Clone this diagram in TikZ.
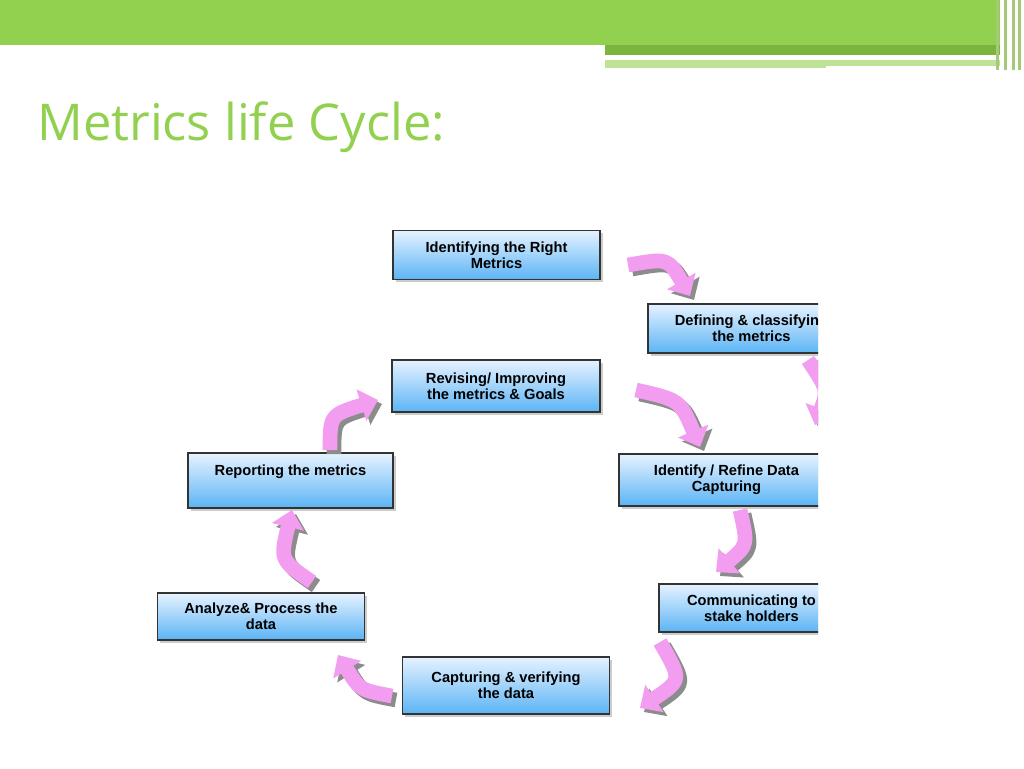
\documentclass[tikz,border=0pt]{standalone}
\usepackage{fontspec}
\setmainfont{Liberation Sans}
\newfontfamily\titlefont{Open Sans}
\usetikzlibrary{arrows.meta,shadows}
\definecolor{leaf}{HTML}{92D050}
\definecolor{leafdark}{HTML}{7DB43E}
\definecolor{pinkarrow}{HTML}{F29DF0}
\definecolor{boxtop}{HTML}{E6F2FF}
\definecolor{boxbot}{HTML}{5BB4F5}
\begin{document}
\begin{tikzpicture}[x=0.75pt,y=-0.75pt,
  phase/.style={draw=black!80,line width=1.2pt,top color=boxtop,bottom color=boxbot,
    drop shadow={shadow xshift=2pt,shadow yshift=-2pt,fill=black!40},
    font=\bfseries\fontsize{11}{12}\selectfont,align=center,inner sep=0pt},
  turn/.style={pinkarrow,line width=11pt,-{Triangle[width=24pt,length=13pt]}},
  turnshade/.style={black!45,line width=11pt,-{Triangle[width=24pt,length=13pt]}}]
\useasboundingbox (0,0) rectangle (1024,768);
% header band
\fill[leaf] (0,0) rectangle (1000,45);
\fill[leafdark] (605,45) rectangle (1000,55);
\fill[leaf!60] (605,60) rectangle (1000,68);
\fill[white] (605,56) rectangle (948,58);
\fill[white] (826,66) rectangle (1000,69);
\foreach \xx in {996,1004,1012,1018}
  \fill[leafdark!70] (\xx,0) rectangle ++(3,70);
\node[anchor=base west,text=leaf,inner sep=0pt,font=\titlefont\fontsize{38}{40}\selectfont] (title) at (37,140) {Metrics life Cycle:};
% cycle
\begin{scope}
\clip (0,200) rectangle (818,768);
\node[phase,minimum width=155pt,minimum height=37pt] (ident) at (496.5,255) {Identifying the Right\\Metrics};
\node[phase,minimum width=155pt,minimum height=37pt] (define) at (751.5,328.5) {Defining \& classifying\\the metrics};
\node[phase,minimum width=156pt,minimum height=39pt] (revise) at (496,386) {Revising/ Improving\\the metrics \& Goals};
\node[phase,minimum width=154pt,minimum height=41pt,text depth=16pt] (report) at (290.5,480.5) {Reporting the metrics};
\node[phase,minimum width=161pt,minimum height=39pt] (refine) at (726.5,480) {Identify / Refine Data\\Capturing};
\node[phase,minimum width=139pt,minimum height=36pt] (commu) at (751.5,608) {Communicating to\\stake holders};
\node[phase,minimum width=155pt,minimum height=35pt] (analyze) at (261,616.5) {Analyze\& Process the\\data};
\node[phase,minimum width=155pt,minimum height=43pt] (capture) at (506,685.5) {Capturing \& verifying\\the data};
% curved arrows
\foreach \a/\b/\c/\d/\e/\f in {628/265/668/258/690/296,
                          808/360/828/390/815/425,
                          636/390/680/400/700/447,
                          740/510/748/545/716/572,
                          660/642/682/680/640/708,
                          392/696/360/690/338/655,
                          312/582/280/560/292/510,
                          330/450/330/415/378/400}{
  \draw[turnshade] (\a+4,\b+4) .. controls (\c+4,\d+4) .. (\e+4,\f+4);
  \draw[turn] (\a,\b) .. controls (\c,\d) .. (\e,\f);
}
\end{scope}
\end{tikzpicture}
\end{document}
